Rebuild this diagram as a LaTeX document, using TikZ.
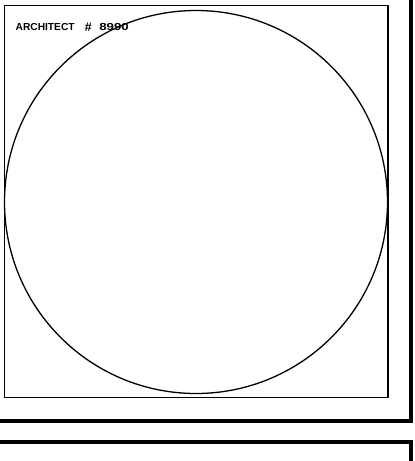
\documentclass[tikz,border=0pt]{standalone}
\usepackage{fontspec}
\setmainfont{Liberation Sans}
\begin{document}
\begin{tikzpicture}[x=1pt,y=-1pt,
  thickframe/.style={line width=4pt,line join=miter,black},
  thinframe/.style={line width=1.5pt,black},
  outline/.style={line width=1.3pt,black},
  lbl/.style={inner sep=0pt,anchor=base west,font=\fontsize{10.2}{12}\selectfont\bfseries}]
\useasboundingbox (0,0) rectangle (415,461);
\fill[white] (0,0) rectangle (415,461);
% inner drawing frame
\draw[thinframe] (4.5,5.5) rectangle (388,397.5);
% circle
\draw[outline] (196,202) circle[radius=191.5];
% title
\node[lbl] (t1) at (15.5,30.3) {ARCHITECT};
\node[lbl,font=\fontsize{12.5}{12}\selectfont\bfseries\itshape] (t2) at (84.5,31.5) {\#};
\node[lbl,xscale=1.3] (t3) at (99,30.3) {8990};
% thick frames
\draw[thickframe] (-5,421) -- (411,421) -- (411,-5);
\draw[thickframe] (-5,442) -- (411,442) -- (411,470);
\end{tikzpicture}
\end{document}
